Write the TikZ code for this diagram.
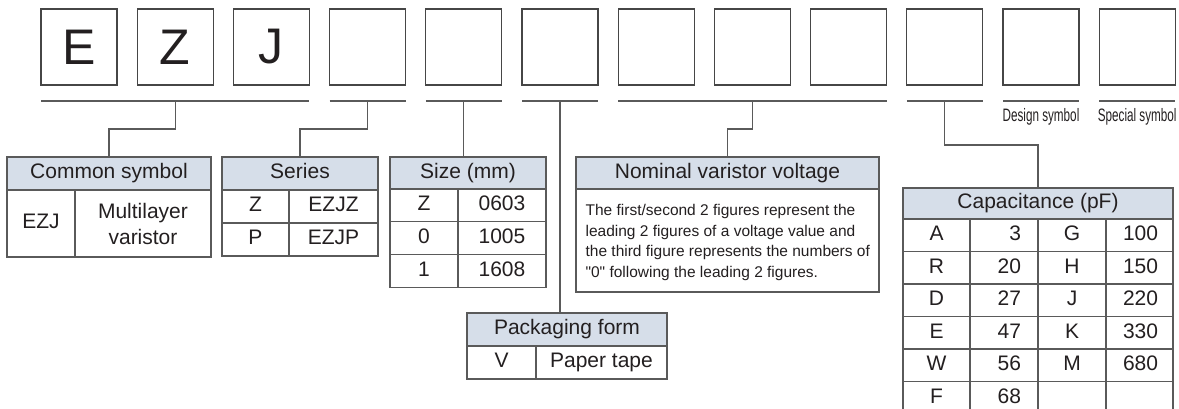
\documentclass[tikz,border=0pt]{standalone}
\usepackage{fontspec}
\setmainfont{Liberation Sans}
\newfontfamily\narrowfont[FakeStretch=0.65]{Liberation Sans}
\usetikzlibrary{calc}
\definecolor{boxline}{RGB}{70,70,70}
\definecolor{tabline}{RGB}{90,90,90}
\definecolor{hdrbg}{RGB}{214,222,233}
\definecolor{txt}{RGB}{35,31,32}
\newcommand{\tabsize}{\fontsize{21}{26}\selectfont}

\begin{document}
\begin{tikzpicture}[x=1pt, y=-1pt, line width=1.2pt, text=txt,
  digit/.style={draw=boxline, minimum width=76pt, minimum height=76pt, inner sep=0pt, outer sep=0pt, font=\fontsize{50}{60}\selectfont},
  under/.style={draw=tabline},
  link/.style={draw=tabline},
  box/.style={draw=tabline, anchor=north west, inner sep=0pt, outer sep=0pt, font=\tabsize, align=center},
  hdr/.style={box, fill=hdrbg, text height=15.2pt, text depth=4.4pt},
  cell/.style={box, fill=white, text height=15.2pt, text depth=4.4pt},
  num/.style={cell, align=right, inner xsep=17pt, text width=#1},
  note/.style={font=\fontsize{15.5}{20.7}\selectfont, align=left, inner sep=0pt},
  sym/.style={font=\narrowfont\fontsize{18}{20}\selectfont, inner sep=0pt}]
  \clip (0,0) rectangle (1179,409);
  % code boxes
  \foreach \i/\c in {0/E,1/Z,2/J}
    \node[digit] (d\i) at ({79+96.2*\i},47) {\c};
  \foreach \i in {3,...,11}
    \node[digit] (d\i) at ({79+96.2*\i},47) {};
  % underlines
  \foreach \a/\b/\n in {0/2/0,3/3/1,4/4/2,5/5/3,6/8/4,9/9/5,10/10/6,11/11/7} {
    \draw[under] ([yshift=-16pt]d\a.south west) -- ([yshift=-16pt]d\b.south east);
    \coordinate (u\n) at ($(d\a.south west)!0.5!(d\b.south east)+(0,16)$);
  }
  \node[sym] (dsgL) at ([yshift=-32pt]d10.south) {Design symbol};
  \node[sym] (spcL) at ([yshift=-32pt]d11.south) {Special symbol};
  % common symbol
  \node[hdr, minimum width=204pt, minimum height=33pt] (comH) at (7,157) {Common symbol};
  \node[cell, minimum width=68pt, minimum height=67pt] (comA) at (7,190) {EZJ};
  \node[box, fill=white, minimum width=136pt, minimum height=67pt] (comB) at (75,190) {Multilayer\\varistor};
  % series
  \node[hdr, minimum width=156pt, minimum height=33pt] (serH) at (222,157) {Series};
  \foreach \c/\v [count=\r from 0] in {Z/EZJZ, P/EZJP} {
    \node[cell, minimum width=67pt, minimum height=33pt] (serA\r) at (222,{190+33*\r}) {\c};
    \node[cell, minimum width=89pt, minimum height=33pt] (serB\r) at (289,{190+33*\r}) {\v};
  }
  % size
  \node[hdr, minimum width=156pt, minimum height=32pt] (sizH) at (390,157) {Size (mm)};
  \foreach \c/\v [count=\r from 0] in {Z/0603, 0/1005, 1/1608} {
    \node[cell, minimum width=68pt, minimum height=32.7pt] (sizA\r) at (390,{189+32.7*\r}) {\c};
    \node[cell, minimum width=88pt, minimum height=32.7pt] (sizB\r) at (458,{189+32.7*\r}) {\v};
  }
  % nominal varistor voltage
  \node[hdr, minimum width=303pt, minimum height=32pt] (nomH) at (576,157) {Nominal varistor voltage};
  \node[cell, minimum width=303pt, minimum height=103pt] (nomB) at (576,189) {};
  \node[note, anchor=west] (nomT) at ([xshift=9pt,yshift=-2pt]nomB.west)
    {The first/second 2 figures represent the\\leading 2 figures of a voltage value and\\the third figure represents the numbers of\\\textquotedbl 0\textquotedbl{} following the leading 2 figures.};
  % packaging form
  \node[hdr, minimum width=200pt, minimum height=33pt] (pakH) at (467,313) {Packaging form};
  \node[cell, minimum width=69pt, minimum height=33pt] (pakA) at (467,346) {V};
  \node[cell, minimum width=131pt, minimum height=33pt] (pakB) at (536,346) {Paper tape};
  % capacitance
  \node[hdr, minimum width=270pt, minimum height=31pt] (capH) at (903,188) {Capacitance (pF)};
  \foreach \a/\b/\c/\d [count=\r from 0] in {A/3/G/100, R/20/H/150, D/27/J/220, E/47/K/330, W/56/M/680, F/68//} {
    \node[cell, minimum width=67pt, minimum height=32.5pt] (capA\r) at (903,{219+32.5*\r}) {\a};
    \node[num=34pt, minimum height=32.5pt] (capB\r) at (970,{219+32.5*\r}) {\b};
    \node[cell, minimum width=68pt, minimum height=32.5pt] (capC\r) at (1038,{219+32.5*\r}) {\c};
    \node[num=33pt, minimum height=32.5pt] (capD\r) at (1106,{219+32.5*\r}) {\d};
  }
  % links
  \draw[link] (u0) -- (u0 |- 0,129) -| (comH.north);
  \draw[link] (u1) -- (u1 |- 0,129) -| (serH.north);
  \draw[link] (u2) -- (u2 |- sizH.north);
  \draw[link] (u3) -- (u3 |- pakH.north);
  \draw[link] (u4) -- (u4 |- 0,129) -| (nomH.north);
  \draw[link] (u5) -- (u5 |- 0,145) -| (capH.north);
\end{tikzpicture}
\end{document}
